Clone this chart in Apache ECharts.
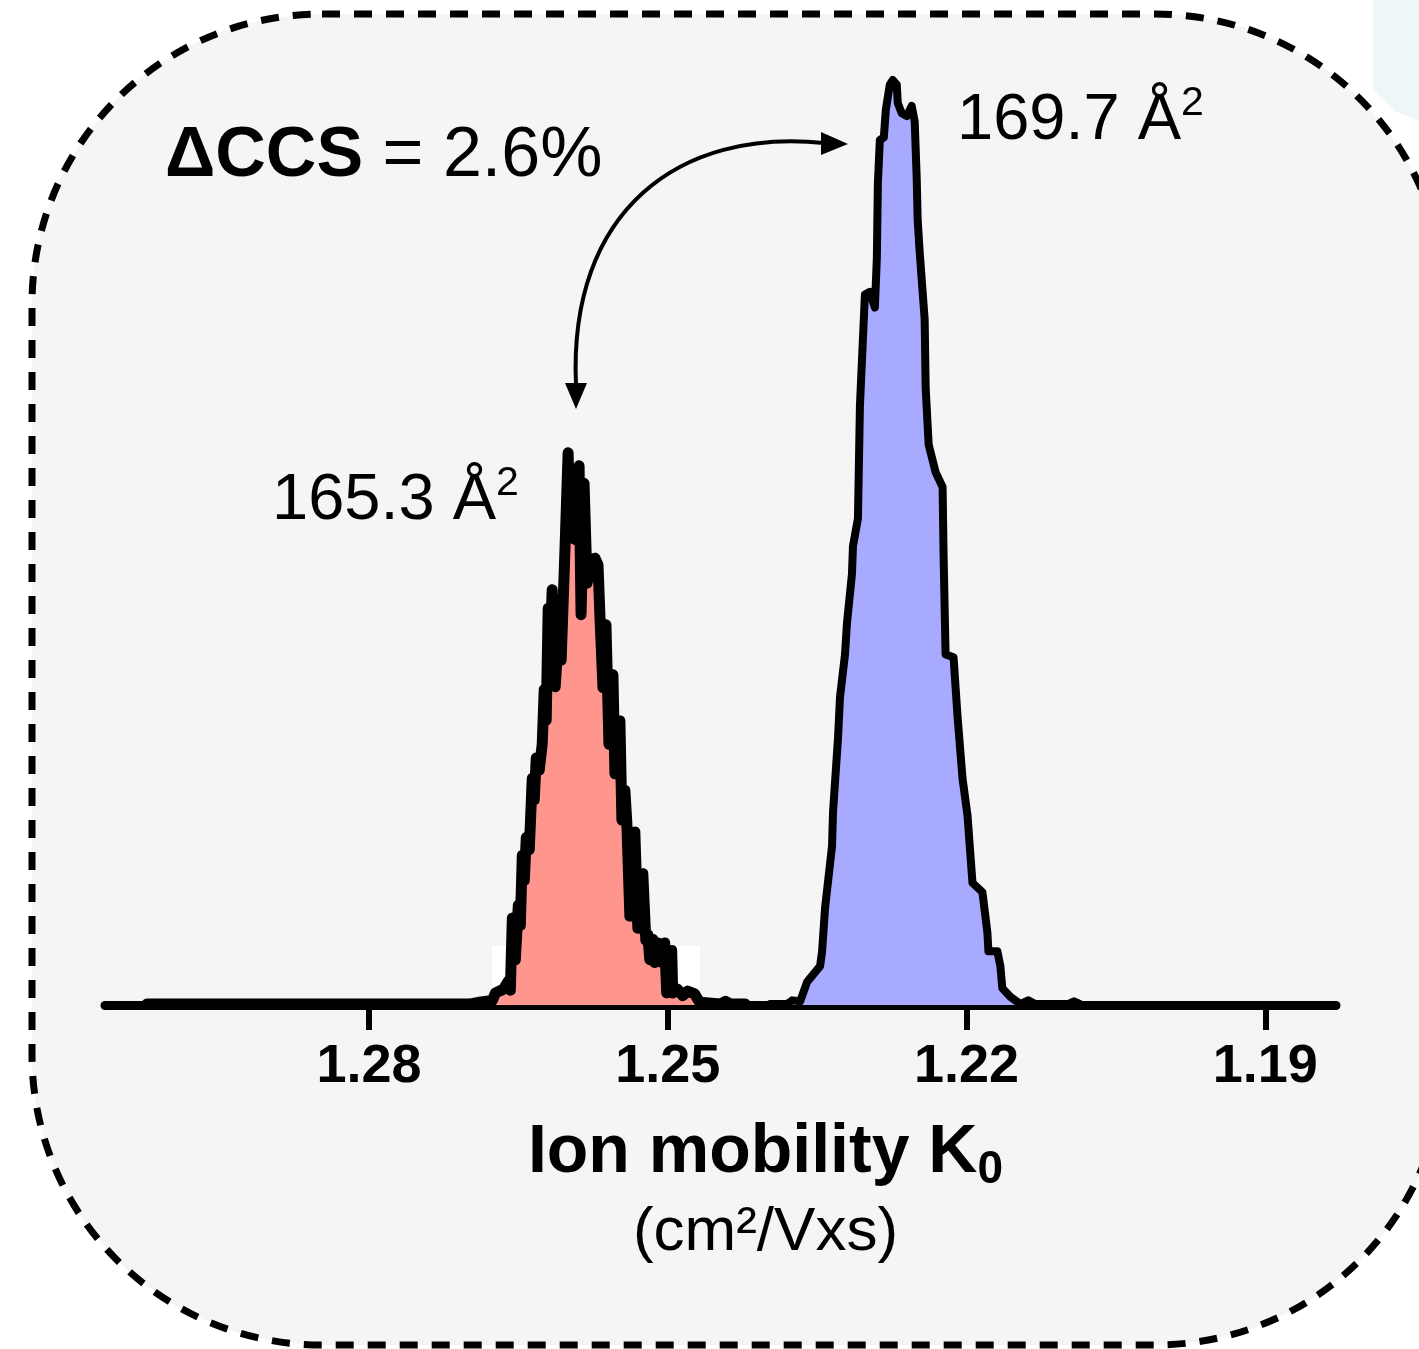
<!DOCTYPE html>
<html>
<head>
<meta charset="utf-8">
<title>Ion mobility</title>
<script src="https://cdn.jsdelivr.net/npm/echarts@6/dist/echarts.min.js"></script>
<style>
  html, body { margin: 0; padding: 0; background: #fff; }
  #main { width: 1419px; height: 1349px; }
</style>
</head>
<body>
<div id="main"></div>
<script>
// ion mobility K0 (cm2/Vxs) and relative intensity
const redK = [1.3023, 1.2699, 1.2689, 1.2676, 1.2673, 1.2665, 1.2660, 1.2658, 1.2656, 1.2653,
  1.2650, 1.2648, 1.2646, 1.2644, 1.2642, 1.2639, 1.2636, 1.2634, 1.2632, 1.2629,
  1.2626, 1.2624, 1.2622, 1.2620, 1.2618, 1.2616, 1.2613, 1.2610, 1.2607, 1.2603,
  1.2600, 1.2598, 1.2592, 1.2589, 1.2587, 1.2584, 1.2581, 1.2576, 1.2573, 1.2570,
  1.2568, 1.2565, 1.2562, 1.2559, 1.2555, 1.2553, 1.2550, 1.2548, 1.2546, 1.2543,
  1.2541, 1.2538, 1.2536, 1.2533, 1.2530, 1.2528, 1.2525, 1.2522, 1.2520, 1.2518,
  1.2515, 1.2513, 1.2510, 1.2506, 1.2503, 1.2501, 1.2496, 1.2495, 1.2490, 1.2485,
  1.2480, 1.2473, 1.2468, 1.2447, 1.2442, 1.2437, 1.2422];
const redI = [0.1, 0.1, 0.3, 0.5, 1.3, 1.7, 2.6, 1.6, 9.4, 4.9,
  10.8, 8.6, 16.2, 13.5, 18.1, 16.8, 24.5, 22.2, 26.7, 25.4,
  28.2, 34.1, 30.8, 42.9, 38.4, 44.9, 34.4, 39.5, 37.3, 49.7,
  59.7, 50.6, 50.3, 58.3, 42.2, 56.4, 45.6, 48.1, 48.3, 47.6,
  41.9, 34.3, 41.1, 28.2, 35.7, 25.0, 29.2, 30.7, 20.0, 23.2,
  19.6, 9.6, 17.8, 18.7, 8.3, 13.0, 14.2, 7.0, 7.6, 4.9,
  7.1, 4.6, 6.7, 4.6, 6.7, 1.3, 5.9, 1.3, 1.7, 1.0,
  1.5, 1.2, 0.3, 0.1, 0.4, 0.1, 0.1];

const blueK = [1.2397, 1.2380, 1.2375, 1.2367, 1.2360, 1.2347, 1.2345, 1.2342, 1.2335, 1.2334,
  1.2329, 1.2327, 1.2322, 1.2320, 1.2315, 1.2314, 1.2309, 1.2307, 1.2302, 1.2297,
  1.2292, 1.2290, 1.2289, 1.2287, 1.2283, 1.2281, 1.2277, 1.2274, 1.2270, 1.2269,
  1.2265, 1.2260, 1.2255, 1.2252, 1.2250, 1.2249, 1.2247, 1.2242, 1.2241, 1.2238,
  1.2231, 1.2224, 1.2223, 1.2221, 1.2213, 1.2209, 1.2204, 1.2199, 1.2194, 1.2184,
  1.2179, 1.2178, 1.2169, 1.2166, 1.2164, 1.2156, 1.2146, 1.2138, 1.2131, 1.2098,
  1.2092, 1.2086];
const blueI = [0.1, 0.1, 0.5, 0.4, 2.5, 4.2, 5.8, 10.5, 17.2, 20.9,
  28.9, 33.3, 37.9, 41.3, 46.6, 49.6, 52.6, 64.8, 76.8, 77.1,
  75.4, 80.8, 88.8, 93.5, 93.8, 96.8, 99.5, 100, 99.5, 97.5,
  96.4, 96.1, 97.2, 95.5, 89.4, 84.8, 81.4, 74.1, 66.7, 60.6,
  57.6, 56.0, 48.6, 37.9, 37.6, 31.2, 24.5, 20.5, 13.2, 12.2,
  7.8, 5.8, 5.8, 4.2, 1.8, 0.9, 0.1, 0.5, 0.1, 0.1,
  0.4, 0.1];

const tickValues = [1.28, 1.25, 1.22, 1.19];

function pairs(xs, ys) {
  let out = [];
  for (let i = 0; i < xs.length; i++) out.push([xs[i], ys[i]]);
  return out;
}

let chart = echarts.init(document.getElementById('main'));

let traceLine = {
  color: '#000',
  width: 8,
  join: 'round',
  cap: 'round'
};

// peak label with a large superscript 2
function ccsLabel(x, y, txt) {
  return {
    type: 'text', z: 10,
    style: {
      x: x, y: y,
      text: txt + ' Å{sup|2}',
      fontFamily: 'Liberation Sans', fontSize: 65, lineHeight: 75, fill: '#000',
      verticalAlign: 'middle',
      rich: {
        sup: { fontFamily: 'Liberation Sans', fontSize: 41, lineHeight: 62, verticalAlign: 'top', fill: '#000' }
      }
    }
  };
}

let option = {
  backgroundColor: '#fff',
  animation: false,
  grid: { left: 105, right: 83, top: 80, bottom: 344 },
  xAxis: {
    type: 'value',
    inverse: true,
    min: 1.1829,
    max: 1.3065,
    splitLine: { show: false },
    axisLine: { lineStyle: { color: '#000', width: 9 } },
    axisTick: {
      customValues: tickValues,
      length: 25,
      lineStyle: { color: '#000', width: 6 }
    },
    axisLabel: {
      customValues: tickValues,
      formatter: v => v.toFixed(2),
      color: '#000',
      fontFamily: 'Liberation Sans',
      fontWeight: 'bold',
      fontSize: 54,
      margin: 35
    },
    name: '{t|Ion mobility K}{s|0}\n{u|(cm²/Vxs)}',
    nameLocation: 'middle',
    nameGap: 108,
    nameTextStyle: {
      padding: [0, 0, 0, 90],
      fontFamily: 'Liberation Sans',
      color: '#000',
      rich: {
        t: { fontSize: 68, fontWeight: 'bold', lineHeight: 80, fontFamily: 'Liberation Sans', color: '#000' },
        s: { fontSize: 46, fontWeight: 'bold', lineHeight: 58, verticalAlign: 'bottom', fontFamily: 'Liberation Sans', color: '#000' },
        u: { fontSize: 62, lineHeight: 80, fontFamily: 'Liberation Sans', color: '#000' }
      }
    }
  },
  yAxis: { type: 'value', min: 0, max: 100, show: false },
  graphic: {
    elements: [
      // dashed rounded panel
      {
        type: 'rect', z: -10,
        shape: { x: 32, y: 14, width: 1413, height: 1331, r: 290 },
        style: { fill: '#f5f5f5', stroke: '#000', lineWidth: 7, lineDash: [18, 14] }
      },
      // faint piece of the next panel
      {
        type: 'polygon', z: -11,
        shape: { points: [[1373, 0], [1419, 0], [1419, 120], [1396, 112], [1373, 90]] },
        style: { fill: '#eef7f7' }
      },
      // white patch under the red base
      {
        type: 'rect', z: -9,
        shape: { x: 492, y: 946, width: 208, height: 57 },
        style: { fill: '#fff' }
      },
      // curved arrow
      {
        type: 'bezierCurve', z: 10,
        shape: { x1: 576, y1: 385, cpx1: 568, cpy1: 210, cpx2: 680, cpy2: 128, x2: 824, y2: 143 },
        style: { stroke: '#000', lineWidth: 4, fill: null }
      },
      {
        type: 'polygon', z: 10,
        shape: { points: [[565, 383], [587, 383], [576, 409]] },
        style: { fill: '#000' }
      },
      {
        type: 'polygon', z: 10,
        shape: { points: [[821, 132], [821, 155], [848, 144]] },
        style: { fill: '#000' }
      },
      {
        type: 'text', z: 10,
        style: {
          x: 165, y: 157,
          text: '{b|ΔCCS} = 2.6%',
          fontFamily: 'Liberation Sans', fontSize: 70, fill: '#000',
          verticalAlign: 'middle',
          rich: { b: { fontWeight: 'bold', fontFamily: 'Liberation Sans', fontSize: 70, fill: '#000' } }
        }
      },
      ccsLabel(957, 121, '169.7'),
      ccsLabel(272, 501, '165.3')
    ]
  },
  series: [
    {
      name: '165.3',
      type: 'line',
      data: pairs(redK, redI),
      showSymbol: false,
      clip: false,
      lineStyle: Object.assign({}, traceLine, { width: 11 }),
      areaStyle: { color: '#ff968d', opacity: 1 }
    },
    {
      name: '169.7',
      type: 'line',
      data: pairs(blueK, blueI),
      showSymbol: false,
      clip: false,
      lineStyle: Object.assign({}, traceLine, { width: 8 }),
      areaStyle: { color: '#a7aaff', opacity: 1 }
    }
  ]
};

chart.setOption(option);
</script>
</body>
</html>
